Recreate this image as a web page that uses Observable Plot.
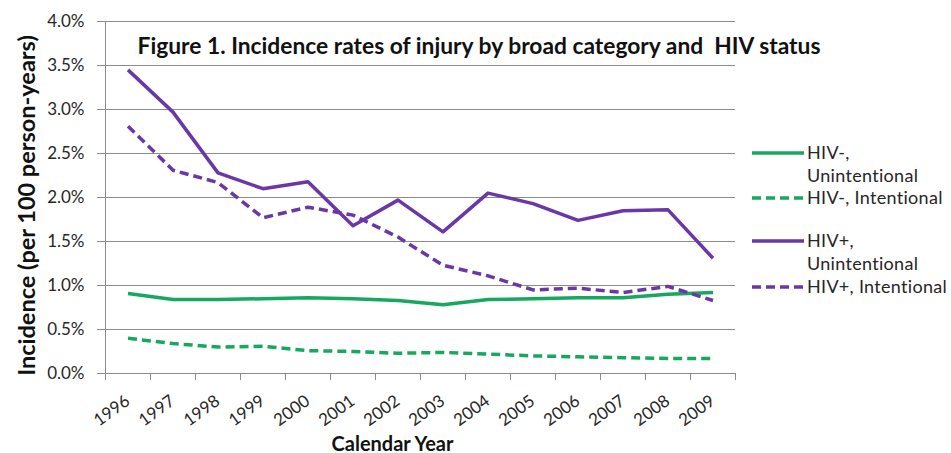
<!DOCTYPE html>
<html>
<head>
<meta charset="utf-8">
<script src="https://cdn.jsdelivr.net/npm/d3@7"></script>
<script src="https://cdn.jsdelivr.net/npm/@observablehq/plot@0.6"></script>
<style>
  html, body { margin: 0; padding: 0; background: #fff; }
  #chart { width: 951px; height: 453px; }
</style>
</head>
<body>
<div id="chart"></div>
<script>
// ---- data ----
const years = [1996, 1997, 1998, 1999, 2000, 2001, 2002, 2003, 2004, 2005, 2006, 2007, 2008, 2009];
const hivNegUnintentional = [0.91, 0.84, 0.84, 0.85, 0.86, 0.85, 0.83, 0.78, 0.84, 0.85, 0.86, 0.86, 0.90, 0.92];
const hivNegIntentional   = [0.40, 0.34, 0.30, 0.31, 0.26, 0.25, 0.23, 0.24, 0.22, 0.20, 0.19, 0.18, 0.17, 0.17];
const hivPosUnintentional = [3.45, 2.97, 2.28, 2.10, 2.18, 1.68, 1.97, 1.61, 2.05, 1.93, 1.74, 1.85, 1.86, 1.31];
const hivPosIntentional   = [2.81, 2.31, 2.17, 1.77, 1.89, 1.80, 1.55, 1.23, 1.11, 0.95, 0.97, 0.92, 0.99, 0.83];
const seriesNames = ["HIV-, Unintentional", "HIV-, Intentional", "HIV+, Unintentional", "HIV+, Intentional"];
const yTicks = [0, 0.005, 0.01, 0.015, 0.02, 0.025, 0.03, 0.035, 0.04];
const titleText = "Figure 1. Incidence rates of injury by broad category and  HIV status";
const yTitle = "Incidence (per 100 person-years)";
const xTitle = "Calendar Year";

// ---- styles ----
const GREEN = "#16a85e";
const PURPLE = "#6a38a6";
const GRID = "#8c8c8c";
const TEXT = "#262626";
const FONT = "Lato, 'Open Sans', sans-serif";
const seriesValues = [hivNegUnintentional, hivNegIntentional, hivPosUnintentional, hivPosIntentional];
const seriesStyle = [
  {stroke: GREEN, dash: null},
  {stroke: GREEN, dash: "9,5"},
  {stroke: PURPLE, dash: null},
  {stroke: PURPLE, dash: "9,5"}
];

const rows = seriesNames.map((name, s) =>
  years.map((yr, i) => ({series: name, year: yr, value: seriesValues[s][i] / 100}))
);
const boundaries = [years[0] - 0.5, ...years.map(y => y + 0.5)];

const plot = Plot.plot({
  width: 951,
  height: 453,
  marginLeft: 105,
  marginRight: 216,
  marginTop: 21,
  marginBottom: 80,
  style: {fontFamily: FONT, fontSize: "17px", color: TEXT, background: "#fff"},
  x: {domain: [boundaries[0], boundaries[boundaries.length - 1]], axis: null},
  y: {domain: [0, 0.04], axis: null},
  marks: [
    Plot.ruleY(yTicks, {stroke: GRID, strokeWidth: 1}),
    Plot.ruleX([boundaries[0]], {stroke: GRID, strokeWidth: 1}),
    Plot.axisY(yTicks, {tickSize: 8, tickPadding: 13, tickFormat: d3.format(".1%"), stroke: GRID, label: null, fontSize: 17}),
    Plot.axisX(boundaries, {tickSize: 7, tickFormat: () => "", stroke: GRID, label: null}),
    ...rows.map((data, s) =>
      Plot.line(data, {
        x: "year", y: "value",
        stroke: seriesStyle[s].stroke,
        strokeWidth: 3.5,
        strokeDasharray: seriesStyle[s].dash,
        strokeLinejoin: "round",
        strokeLinecap: "butt"
      })
    ),
    Plot.text(years, {x: d => d, text: d => String(d), frameAnchor: "bottom", rotate: -36, textAnchor: "end", lineAnchor: "bottom", dx: 3, dy: 30, fontSize: 17, fill: TEXT}),
    Plot.text([titleText], {frameAnchor: "top-left", dx: 32, dy: 32, textAnchor: "start", lineAnchor: "bottom", fontWeight: "bold", fontSize: 22.8, fill: "#111"}),
    Plot.text([yTitle], {frameAnchor: "left", rotate: -90, dx: -71, dy: 8, textAnchor: "middle", lineAnchor: "bottom", fontWeight: "bold", fontSize: 23.5, fill: "#111"}),
    Plot.text([xTitle], {frameAnchor: "bottom", dx: -28, dy: 77, textAnchor: "middle", lineAnchor: "bottom", fontWeight: "bold", fontSize: 20, fill: "#111"})
  ]
});

// ---- legend (appended into the same SVG) ----
const svg = d3.select(plot);
const legend = svg.append("g")
  .attr("font-family", FONT).attr("font-size", 18).attr("letter-spacing", "0.3px")
  .attr("fill", TEXT).attr("text-anchor", "start");
const legendTop = [153, 198, 241, 287];
seriesNames.forEach((name, s) => {
  const g = legend.append("g").attr("transform", `translate(752,${legendTop[s]})`);
  g.append("line").attr("x1", 0).attr("x2", 52).attr("y1", 0).attr("y2", 0)
    .attr("stroke", seriesStyle[s].stroke).attr("stroke-width", 3.5)
    .attr("stroke-dasharray", seriesStyle[s].dash);
  const lines = name.includes("Unintentional") ? name.split(" ") : [name];
  lines.forEach((ln, j) => {
    g.append("text").attr("x", 55).attr("y", j * 23).attr("dy", "0.35em").text(ln);
  });
});

document.getElementById("chart").appendChild(plot);
</script>
</body>
</html>
